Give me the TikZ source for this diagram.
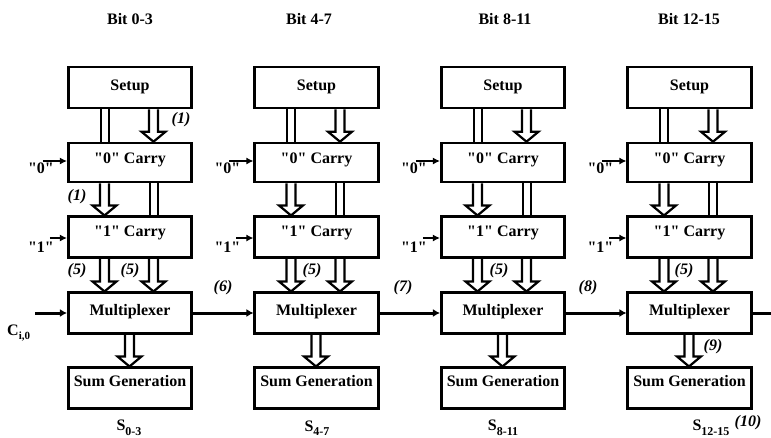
\documentclass[tikz,border=0pt]{standalone}
\usepackage{fontspec}
\setmainfont{Liberation Serif}[Ligatures=TeXOff]
\usetikzlibrary{calc,arrows.meta}
\newcommand\hollowarr[3]{%
  \draw[harrow] let \p1=($(#1.south)+(#3,0)$), \p2=($(#2.north)+(#3,0)$) in
    (\x1-4.5pt,\y1) -- (\x1-4.5pt,\y2+10pt) -- (\x1-12pt,\y2+10pt) -- (\x1,\y2)
    -- (\x1+12pt,\y2+10pt) -- (\x1+4.5pt,\y2+10pt) -- (\x1+4.5pt,\y1);}
\newcommand\dblline[3]{%
  \draw[dline] ($(#1.south)+(#3-4,0)$) -- ($(#2.north)+(#3-4,0)$);
  \draw[dline] ($(#1.south)+(#3+4,0)$) -- ($(#2.north)+(#3+4,0)$);}
\begin{document}
\begin{tikzpicture}[x=1pt,y=-1pt,
  every node/.style={font=\fontsize{16}{19}\selectfont\bfseries},
  box/.style={draw, line width=2.6pt, minimum width=123.5pt, minimum height=40.5pt,
    inner sep=0pt, text height=0pt, text depth=0pt},
  setupbox/.style={box, minimum height=41pt, text height=5.2pt},
  zerobox/.style={box, minimum height=39pt, text height=1.6pt},
  onebox/.style={box, text depth=1.4pt},
  muxbox/.style={box, text height=5.6pt},
  sumbox/.style={box, text depth=2.6pt},
  harrow/.style={line width=2.2pt, line join=miter},
  dline/.style={line width=2pt},
  chain/.style={line width=3pt, -{Latex[length=7pt,width=8pt]}},
  inarr/.style={line width=2.6pt, -{Latex[length=7pt,width=7pt]}},
  lab/.style={font=\fontsize{16}{19}\selectfont\bfseries\itshape, inner sep=0pt},
  plain/.style={inner sep=0pt}]
\useasboundingbox (0,0) rectangle (771,437);
\fill[white] (0,0) rectangle (771,437);

% titles
\node[plain] (t1) at (130,19) {Bit 0-3};
\node[plain] (t2) at (309,19) {Bit 4-7};
\node[plain] (t3) at (505,19) {Bit 8-11};
\node[plain] (t4) at (689,19) {Bit 12-15};

\foreach \i/\c in {1/130,2/316.5,3/503,4/689.5}{
  \node[setupbox] (s\i)  at (\c,87.5) {Setup};
  \node[zerobox]  (z\i)  at (\c,162.5) {"0" Carry};
  \node[onebox]   (o\i)  at (\c,237) {"1" Carry};
  \node[muxbox]   (m\i)  at (\c,313) {Multiplexer};
  \node[sumbox]   (g\i)  at (\c,388) {Sum Generation};
  % block arrows
  \dblline{s\i}{z\i}{-25.5}
  \hollowarr{s\i}{z\i}{23.5}
  \hollowarr{z\i}{o\i}{-25.5}
  \dblline{z\i}{o\i}{23.5}
  \hollowarr{o\i}{m\i}{-25.5}
  \hollowarr{o\i}{m\i}{23.5}
  \hollowarr{m\i}{g\i}{-0.5}
  % inputs
  \coordinate (a0\i) at ($(z\i.west)+(-24,-1.5)$);
  \coordinate (b0\i) at ($(z\i.west)+(0,-1.5)$);
  \draw[inarr] (a0\i) -- (b0\i);
  \node[plain] (q0\i) at ($(z\i.west)+(-26,5.5)$) {"0"};
  \coordinate (a1\i) at ($(o\i.west)+(-17,1)$);
  \coordinate (b1\i) at ($(o\i.west)+(0,1)$);
  \draw[inarr] (a1\i) -- (b1\i);
  \node[plain] (q1\i) at ($(o\i.west)+(-26,10)$) {"1"};
}

% carry chain
\coordinate (cin) at (35,313);
\coordinate (cout) at (771,313);
\draw[chain] (cin) -- (m1.west);
\draw[chain] (m1.east) -- (m2.west);
\draw[chain] (m2.east) -- (m3.west);
\draw[chain] (m3.east) -- (m4.west);
\draw[line width=3pt] (m4.east) -- (cout);
\node[plain, anchor=west] (ci) at (7,333) {C\raisebox{-4pt}{\fontsize{11}{11}\selectfont i,0}};

% sum labels
\node[plain] (so1) at (129,428) {S\raisebox{-4.5pt}{\fontsize{12}{12}\selectfont 0-3}};
\node[plain] (so2) at (317,428) {S\raisebox{-4.5pt}{\fontsize{12}{12}\selectfont 4-7}};
\node[plain] (so3) at (503,428) {S\raisebox{-4.5pt}{\fontsize{12}{12}\selectfont 8-11}};
\node[plain] (so4) at (711,428) {S\raisebox{-4.5pt}{\fontsize{12}{12}\selectfont 12-15}};

% numbered labels
\node[lab] (l1a) at (181,120) {(1)};
\node[lab] (l1b) at (77,197) {(1)};
\node[lab] (l5a) at (77,271) {(5)};
\node[lab] (l5b) at (130,271) {(5)};
\node[lab] (l5c) at (312,271) {(5)};
\node[lab] (l5d) at (499,271) {(5)};
\node[lab] (l5e) at (684,271) {(5)};
\node[lab] (l6) at (223,288) {(6)};
\node[lab] (l7) at (403,288) {(7)};
\node[lab] (l8) at (588,288) {(8)};
\node[lab] (l9) at (713,347) {(9)};
\node[lab] (l10) at (748,423) {(10)};
\end{tikzpicture}
\end{document}
